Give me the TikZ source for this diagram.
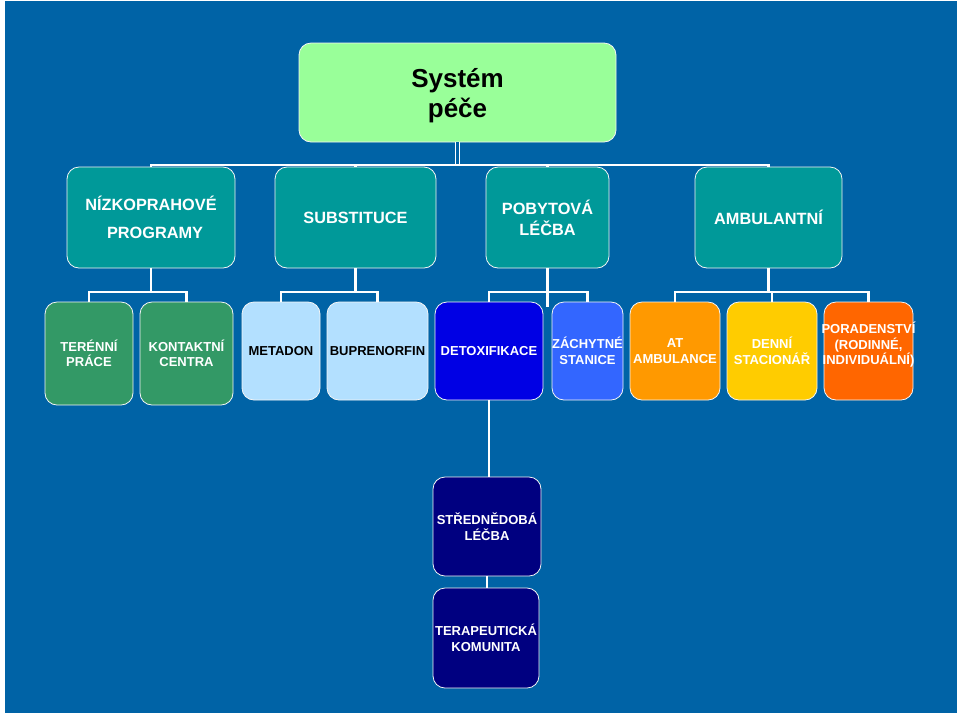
\documentclass[tikz,border=0pt]{standalone}
\usepackage{fontspec}
\setmainfont{Liberation Sans}
\definecolor{bgblue}{RGB}{0,99,166}
\definecolor{topgreen}{RGB}{153,255,153}
\definecolor{teal2}{RGB}{0,153,153}
\definecolor{green3}{RGB}{51,153,102}
\definecolor{lblue}{RGB}{179,224,255}
\definecolor{detox}{RGB}{0,0,228}
\definecolor{zach}{RGB}{51,102,255}
\definecolor{orangeA}{RGB}{255,153,0}
\definecolor{yellowD}{RGB}{255,204,0}
\definecolor{orangeP}{RGB}{255,102,0}
\definecolor{navy2}{RGB}{0,0,128}
\tikzset{
  box/.style={rounded corners=12pt, draw=white!92!gray, line width=0.8pt, align=center, inner sep=0pt, text=white},
  lvltwo/.style={box, fill=teal2, minimum height=101pt, font=\bfseries\fontsize{16.3}{21}\selectfont},
  lvlthree/.style={box, minimum height=98pt, font=\bfseries\fontsize{13}{15.5}\selectfont},
  conn/.style={draw=white, line width=2.6pt, line join=miter},
  dbl/.style={draw=white, line width=1.3pt, double=bgblue, double distance=2.2pt}
}
\begin{document}
\begin{tikzpicture}[x=1pt,y=-1pt]
\useasboundingbox (0,0) rectangle (960,716);
\fill[white] (0,0) rectangle (960,716);
\fill[bgblue] (5,1) rectangle (957,713);

\coordinate (y1) at (0,165);
\coordinate (y2) at (0,292);
\coordinate (y3) at (0,307);

% top
\node[box, fill=topgreen, minimum width=317pt, minimum height=99pt,
  label={[text=black, align=center, inner sep=0pt, yshift=-3pt, font=\bfseries\fontsize{26}{30}\selectfont]center:Systém\\péče}] (sys) at (457.5,92.5) {};

% level 2
\node[lvltwo, minimum width=168pt, font=\bfseries\fontsize{16.3}{28}\selectfont] (n1) at (151,217.5) {NÍZKOPRAHOVÉ\\\hspace*{8pt}PROGRAMY};
\node[lvltwo, minimum width=161pt] (n2) at (355.5,217.5) {SUBSTITUCE};
\node[lvltwo, minimum width=123pt] (n3) at (547.5,217.5) {POBYTOVÁ\\LÉČBA};
\node[lvltwo, minimum width=147pt] (n4) at (768.5,217.5) {AMBULANTNÍ};

% level 3
\node[lvlthree, fill=green3, minimum width=88pt, minimum height=103pt] (t1) at (89,353.5) {TERÉNNÍ\\PRÁCE};
\node[lvlthree, fill=green3, minimum width=93pt, minimum height=103pt] (t2) at (186.5,353.5) {KONTAKTNÍ\\CENTRA};
\node[lvlthree, fill=lblue, text=black, minimum width=78pt] (t3) at (281,351) {METADON};
\node[lvlthree, fill=lblue, text=black, minimum width=101pt] (t4) at (377.5,351) {BUPRENORFIN};
\node[lvlthree, fill=detox, minimum width=108pt] (t5) at (489,351) {DETOXIFIKACE};
\node[lvlthree, fill=zach, minimum width=71pt] (t6) at (587.5,351) {ZÁCHYTNÉ\\STANICE};
\node[lvlthree, fill=orangeA, minimum width=90pt] (t7) at (675,351) {AT\\AMBULANCE};
\node[lvlthree, fill=yellowD, minimum width=90pt] (t8) at (772,351) {DENNÍ\\STACIONÁŘ};
\node[lvlthree, fill=orangeP, minimum width=89pt,
  label={[text=white, align=center, inner sep=0pt, yshift=6pt, font=\bfseries\fontsize{13}{15.5}\selectfont]center:PORADENSTVÍ\\(RODINNÉ,\\INDIVIDUÁLNÍ)}] (t9) at (868.5,351) {};

% bottom
\node[lvlthree, fill=navy2, minimum width=108pt, minimum height=99pt] (b1) at (487,526.5) {STŘEDNĚDOBÁ\\LÉČBA};
\node[lvlthree, fill=navy2, minimum width=106pt, minimum height=100pt] (b2) at (486,638) {TERAPEUTICKÁ\\KOMUNITA};

% connectors
\draw[dbl] (sys.south) -- (sys.south |- y1);
\draw[conn] (n1.north) -- (n1.north |- y1) -- (n4.north |- y1) -- (n4.north);
\draw[conn] (n2.north |- y1) -- (n2.north);
\draw[conn] (n3.north |- y1) -- (n3.north);

\draw[conn] (n1.south) -- (n1.south |- y2);
\draw[conn] (t1.north) -- (t1.north |- y2) -- (t2.north |- y2) -- (t2.north);
\draw[conn] (n2.south) -- (n2.south |- y2);
\draw[conn] (t3.north) -- (t3.north |- y2) -- (t4.north |- y2) -- (t4.north);
\draw[conn] (n3.south) -- (n3.south |- y3);
\draw[conn] (t5.north) -- (t5.north |- y2) -- (t6.north |- y2) -- (t6.north);
\draw[conn] (n4.south) -- (n4.south |- y2);
\draw[conn] (t7.north) -- (t7.north |- y2) -- (t9.north |- y2) -- (t9.north);
\draw[conn] (t8.north |- y2) -- (t8.north);

\draw[conn] (t5.south) -- (t5.south |- b1.north);
\draw[conn] (b1.south) -- (b1.south |- b2.north);
\end{tikzpicture}
\end{document}
